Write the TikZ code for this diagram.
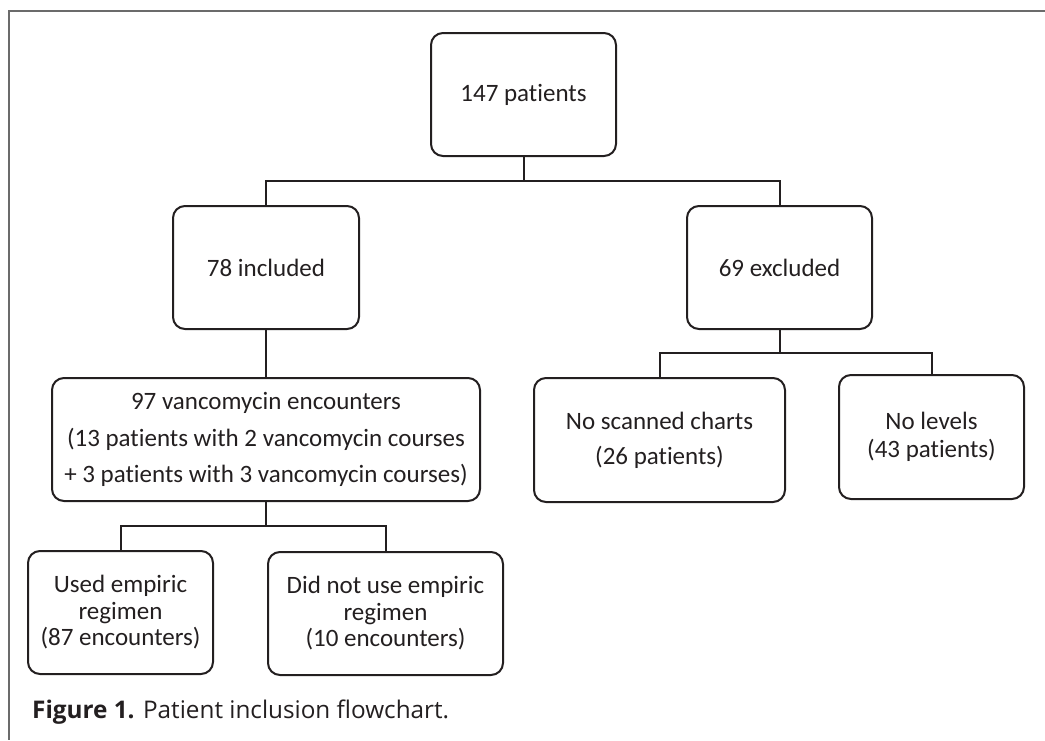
\documentclass[tikz,border=0pt]{standalone}
\usepackage{fontspec}
\setmainfont{Carlito}[Ligatures=NoCommon]
\newfontfamily\capfont{Open Sans}
\definecolor{ink}{HTML}{231F20}
\definecolor{frame}{HTML}{6B6B6B}
\begin{document}
\begin{tikzpicture}[x=1pt,y=-1pt,
  box/.style={draw=ink,line width=2pt,rounded corners=12pt,align=center,
    inner sep=0pt,text=ink,font=\fontsize{25}{26.5}\selectfont},
  link/.style={draw=ink,line width=2pt}]
\useasboundingbox (0,0) rectangle (1045,740);
\draw[frame,line width=2pt] (1045,11) -- (9,11) -- (9,740);

\node[box,minimum width=185pt,minimum height=123pt] (top) at (523.5,94.5) {147 patients};
\node[box,minimum width=186pt,minimum height=123pt] (inc) at (266,267.5) {78 included};
\node[box,minimum width=185pt,minimum height=123pt] (exc) at (779.5,267.5) {69 excluded};
\node[box,minimum width=428pt,minimum height=123pt,font=\fontsize{25}{36.5}\selectfont] (enc) at (266,439.5)
  {97 vancomycin encounters\\(13 patients with 2 vancomycin courses\\+ 3 patients with 3 vancomycin courses)};
\node[box,minimum width=251pt,minimum height=124pt,font=\fontsize{25}{35}\selectfont] (scan) at (659.5,440) {No scanned charts\\(26 patients)};
\node[box,minimum width=185pt,minimum height=124pt,font=\fontsize{25}{28}\selectfont] (lev) at (931.5,437) {No levels\\(43 patients)};
\node[box,minimum width=185pt,minimum height=123pt] (used) at (120.5,612.5) {Used empiric\\regimen\\(87 encounters)};
\node[box,minimum width=235pt,minimum height=123pt] (notused) at (385.5,613.5) {Did not use empiric\\regimen\\(10 encounters)};

\coordinate (j1) at (523.5,181);
\coordinate (j2) at (779.5,353);
\coordinate (j3) at (266,526);
\draw[link] (top.south) -- (j1) -| (inc.north);
\draw[link] (j1) -| (exc.north);
\draw[link] (inc.south) -- (enc.north);
\draw[link] (exc.south) -- (j2) -| (scan.north);
\draw[link] (j2) -| (lev.north);
\draw[link] (enc.south) -- (j3) -| (used.north);
\draw[link] (j3) -| (notused.north);

\node[anchor=base west,inner sep=0pt,text=ink,font=\capfont\fontsize{24.3}{28}\selectfont] (cap) at (32,718)
  {\textbf{Figure 1.} Patient inclusion flowchart.};
\end{tikzpicture}
\end{document}
